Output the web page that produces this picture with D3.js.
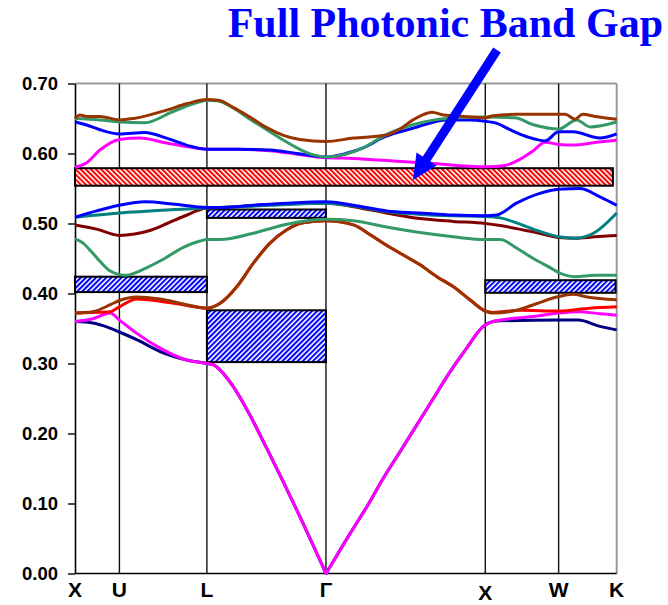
<!DOCTYPE html>
<html>
<head>
<meta charset="utf-8">
<script src="https://d3js.org/d3.v7.min.js"></script>
<style>
  body { margin: 0; background: #fff; }
  svg { display: block; }
</style>
</head>
<body>
<div id="chart"></div>
<script>
// symmetry points along the k path (fraction of path length)
const kTicks = [0, 0.082, 0.2435, 0.4633, 0.7574, 0.8928, 1];
const kLabels = ["X", "U", "L", "Γ", "X", "W", "K"];
const yTicks = [0, 0.1, 0.2, 0.3, 0.4, 0.5, 0.6, 0.7];

// shared pieces of degenerate branches (L - Γ - X)
const acousticLGX = [[0.256,0.298],[0.2616,0.295],[0.2922,0.267],[0.3231,0.226],[0.3539,0.179],[0.3845,0.131],[0.4154,0.081],[0.4462,0.029],[0.459,0.0075],[0.4633,0],[0.468,0.006],[0.5077,0.057],[0.5385,0.095],[0.5691,0.136],[0.600,0.174],[0.6308,0.212],[0.6614,0.250],[0.6923,0.288],[0.7231,0.322],[0.7537,0.353],[0.7716,0.360]];
const opticLGX = [[0.268,0.386],[0.299,0.410],[0.329,0.443],[0.360,0.472],[0.391,0.491],[0.421,0.501],[0.4633,0.504],[0.514,0.498],[0.545,0.484],[0.575,0.469],[0.606,0.455],[0.637,0.441],[0.668,0.424],[0.698,0.410],[0.729,0.391],[0.7574,0.375]];

const bandNavy = [[0,0.360],[0.033,0.358],[0.060,0.352],[0.082,0.345],[0.114,0.334],[0.157,0.317],[0.206,0.305],[0.2435,0.300], ...acousticLGX, [0.785,0.361],[0.8928,0.362],[0.929,0.362],[0.969,0.353],[1,0.348]];
const bandMagentaLow = [[0,0.360],[0.033,0.364],[0.065,0.372],[0.082,0.362],[0.114,0.343],[0.157,0.322],[0.206,0.305],[0.2435,0.300], ...acousticLGX, [0.785,0.362],[0.846,0.367],[0.8928,0.372],[0.932,0.374],[0.969,0.371],[1,0.369]];
const bandRed = [[0,0.372],[0.033,0.373],[0.065,0.374],[0.082,0.381],[0.114,0.392],[0.157,0.389],[0.206,0.383],[0.2435,0.379], ...opticLGX, [0.7716,0.373],[0.821,0.376],[0.8928,0.375],[0.95,0.379],[1,0.381]];
const bandBrown = [[0,0.372],[0.033,0.374],[0.065,0.384],[0.082,0.390],[0.114,0.395],[0.157,0.392],[0.206,0.384],[0.2435,0.379], ...opticLGX, [0.7716,0.372],[0.815,0.376],[0.850,0.385],[0.889,0.395],[0.920,0.399],[0.945,0.395],[1,0.391]];
const bandGreenLow = [[0,0.478],[0.015,0.472],[0.030,0.460],[0.046,0.446],[0.065,0.432],[0.082,0.427],[0.095,0.426],[0.11,0.429],[0.13,0.436],[0.163,0.449],[0.2,0.466],[0.231,0.475],[0.2435,0.477],[0.268,0.477],[0.329,0.486],[0.391,0.499],[0.4633,0.506],[0.514,0.504],[0.575,0.495],[0.637,0.487],[0.698,0.481],[0.7574,0.477],[0.785,0.477],[0.815,0.465],[0.846,0.450],[0.877,0.437],[0.8928,0.430],[0.923,0.424],[0.96,0.426],[1,0.426]];
const bandDarkRed = [[0,0.498],[0.04,0.492],[0.082,0.483],[0.11,0.485],[0.138,0.490],[0.17,0.500],[0.2,0.510],[0.2435,0.522],[0.30,0.524],[0.36,0.527],[0.4633,0.529],[0.514,0.524],[0.575,0.515],[0.637,0.507],[0.698,0.503],[0.7574,0.500],[0.785,0.497],[0.846,0.488],[0.8928,0.480],[0.923,0.479],[0.96,0.481],[1,0.483]];
const bandTeal = [[0,0.509],[0.082,0.515],[0.16,0.519],[0.2435,0.522],[0.30,0.524],[0.36,0.526],[0.4633,0.529],[0.514,0.525],[0.575,0.517],[0.637,0.513],[0.698,0.511],[0.7574,0.510],[0.785,0.508],[0.815,0.501],[0.846,0.492],[0.8928,0.481],[0.923,0.479],[0.957,0.486],[1,0.515]];
const bandBlueLow = [[0,0.509],[0.04,0.518],[0.082,0.526],[0.129,0.531],[0.18,0.528],[0.2435,0.523],[0.268,0.523],[0.329,0.526],[0.391,0.529],[0.4633,0.531],[0.514,0.526],[0.575,0.518],[0.637,0.515],[0.698,0.512],[0.7574,0.511],[0.778,0.512],[0.815,0.529],[0.858,0.543],[0.8928,0.549],[0.932,0.550],[0.969,0.538],[1,0.526]];
const bandMagentaUp = [[0,0.580],[0.02,0.586],[0.046,0.605],[0.082,0.620],[0.12,0.622],[0.169,0.615],[0.231,0.607],[0.2435,0.606],[0.30,0.606],[0.36,0.604],[0.41,0.599],[0.4633,0.594],[0.514,0.593],[0.594,0.589],[0.655,0.586],[0.7574,0.581],[0.794,0.583],[0.822,0.592],[0.846,0.604],[0.868,0.616],[0.8928,0.613],[0.919,0.612],[0.963,0.616],[1,0.619]];
const bandBlueUp = [[0,0.645],[0.02,0.641],[0.046,0.634],[0.082,0.628],[0.129,0.630],[0.169,0.622],[0.215,0.610],[0.2435,0.606],[0.30,0.606],[0.36,0.605],[0.41,0.600],[0.4633,0.595],[0.50,0.600],[0.532,0.608],[0.572,0.624],[0.624,0.636],[0.686,0.648],[0.73,0.648],[0.7574,0.646],[0.779,0.643],[0.803,0.634],[0.834,0.624],[0.868,0.618],[0.8928,0.631],[0.919,0.631],[0.969,0.622],[1,0.628]];
const bandGreenUp = [[0,0.650],[0.046,0.648],[0.082,0.645],[0.129,0.644],[0.181,0.660],[0.231,0.674],[0.2435,0.676],[0.265,0.675],[0.292,0.665],[0.323,0.649],[0.354,0.634],[0.385,0.619],[0.415,0.606],[0.44,0.598],[0.4633,0.595],[0.532,0.608],[0.572,0.626],[0.624,0.641],[0.686,0.650],[0.7574,0.652],[0.812,0.651],[0.846,0.641],[0.8928,0.635],[0.926,0.648],[0.951,0.638],[1,0.645]];
const bandBrownUp = [[0,0.650],[0.009,0.655],[0.022,0.653],[0.046,0.653],[0.082,0.648],[0.108,0.650],[0.169,0.662],[0.206,0.671],[0.2435,0.677],[0.265,0.676],[0.292,0.666],[0.323,0.652],[0.354,0.637],[0.385,0.626],[0.415,0.620],[0.4633,0.617],[0.514,0.622],[0.572,0.626],[0.600,0.635],[0.624,0.648],[0.659,0.659],[0.68,0.655],[0.718,0.653],[0.7574,0.651],[0.772,0.654],[0.815,0.656],[0.905,0.656],[0.923,0.649],[0.937,0.656],[0.96,0.653],[1,0.649]];

const bands = [
  { pts: bandNavy, color: "#000080" },
  { pts: bandMagentaLow, color: "#FF00FF" },
  { pts: bandRed, color: "#FF0000" },
  { pts: bandBrown, color: "#993300" },
  { pts: bandGreenLow, color: "#339966" },
  { pts: bandDarkRed, color: "#800000" },
  { pts: bandTeal, color: "#008080" },
  { pts: bandBlueLow, color: "#0000FF" },
  { pts: bandMagentaUp, color: "#FF00FF" },
  { pts: bandBlueUp, color: "#0000FF" },
  { pts: bandGreenUp, color: "#339966" },
  { pts: bandBrownUp, color: "#993300" }
];

// band gaps: k range and frequency range
const gapK0 = [0, 0, 0.2435, 0.2435, 0.7574];
const gapK1 = [0.993, 0.2435, 0.4633, 0.4633, 0.998];
const gapLow = [0.554, 0.402, 0.508, 0.302, 0.401];
const gapHigh = [0.579, 0.424, 0.520, 0.376, 0.419];
const gapFull = [true, false, false, false, false];

const W = 668, H = 605;
const margin = { left: 75, top: 83.5, right: W - 616.7, bottom: H - 573.5 };
const plotW = W - margin.left - margin.right;
const plotH = H - margin.top - margin.bottom;

const svg = d3.select("#chart").append("svg")
  .attr("width", W)
  .attr("height", H);

const defs = svg.append("defs");
function hatch(id, color, angle) {
  const p = defs.append("pattern")
    .attr("id", id)
    .attr("patternUnits", "userSpaceOnUse")
    .attr("width", 3.6)
    .attr("height", 10)
    .attr("patternTransform", `rotate(${angle})`);
  p.append("rect").attr("width", 3.6).attr("height", 10).attr("fill", "#fff");
  p.append("rect").attr("width", 2).attr("height", 10).attr("fill", color);
}
hatch("hatchRed", "#FF0000", -45);
hatch("hatchBlue", "#0000FF", 45);

const x = d3.scaleLinear().domain([0, 1]).range([0, plotW]);
const y = d3.scaleLinear().domain([0, 0.7]).range([plotH, 0]);

const g = svg.append("g").attr("transform", `translate(${margin.left},${margin.top})`);

// frame: gray top/right
g.append("line").attr("x1", 0).attr("x2", plotW).attr("y1", 0).attr("y2", 0)
  .attr("stroke", "#999").attr("stroke-width", 2);
g.append("line").attr("x1", plotW).attr("x2", plotW).attr("y1", 0).attr("y2", plotH)
  .attr("stroke", "#999").attr("stroke-width", 2);

// vertical lines at symmetry points
g.selectAll(".vline")
  .data(kTicks.slice(1, -1))
  .join("line")
  .attr("class", "vline")
  .attr("x1", d => x(d)).attr("x2", d => x(d))
  .attr("y1", 0).attr("y2", plotH)
  .attr("stroke", "#111").attr("stroke-width", 1.4);

// y axis
const yAxis = g.append("g")
  .call(d3.axisLeft(y).tickValues(yTicks).tickFormat(d3.format(".2f")).tickSize(7).tickSizeOuter(0));
yAxis.select(".domain").attr("stroke", "#000").attr("stroke-width", 1.6);
yAxis.selectAll(".tick line").attr("stroke", "#000").attr("stroke-width", 1.4);
yAxis.selectAll(".tick text")
  .attr("x", -17)
  .style("font-family", "'Liberation Sans', Arial, sans-serif")
  .style("font-weight", "bold")
  .style("font-size", "18.5px")
  .attr("fill", "#000");

// bottom axis line
g.append("line").attr("x1", 0).attr("x2", plotW).attr("y1", plotH).attr("y2", plotH)
  .attr("stroke", "#000").attr("stroke-width", 1.6);

// k labels (the second X sits a little lower, as in the original)
g.selectAll(".klabel")
  .data(kTicks)
  .join("text")
  .attr("class", "klabel")
  .attr("x", d => x(d))
  .attr("y", (d, i) => plotH + (i === 4 ? 26 : 23))
  .attr("text-anchor", "middle")
  .style("font-family", "'Liberation Sans', Arial, sans-serif")
  .style("font-weight", "bold")
  .style("font-size", "21px")
  .text((d, i) => kLabels[i]);

// gaps
g.selectAll(".gap")
  .data(gapK0)
  .join("rect")
  .attr("class", "gap")
  .attr("x", (d, i) => x(gapK0[i]))
  .attr("width", (d, i) => x(gapK1[i]) - x(gapK0[i]))
  .attr("y", (d, i) => y(gapHigh[i]))
  .attr("height", (d, i) => y(gapLow[i]) - y(gapHigh[i]))
  .attr("fill", (d, i) => gapFull[i] ? "url(#hatchRed)" : "url(#hatchBlue)")
  .attr("stroke", "#000")
  .attr("stroke-width", 2);

// bands
const line = d3.line()
  .x(d => x(d[0]))
  .y(d => y(d[1]))
  .curve(d3.curveMonotoneX);

g.selectAll(".band")
  .data(bands)
  .join("path")
  .attr("class", "band")
  .attr("d", d => line(d.pts))
  .attr("fill", "none")
  .attr("stroke", d => d.color)
  .attr("stroke-width", 3)
  .attr("stroke-linejoin", "round");

// annotation
svg.append("text")
  .attr("x", 663)
  .attr("y", 37)
  .attr("text-anchor", "end")
  .style("font-family", "'Liberation Serif', 'Times New Roman', serif")
  .style("font-weight", "bold")
  .style("font-size", "42px")
  .attr("fill", "#0000FF")
  .text("Full Photonic Band Gap");

const tail = [497, 50], tip = [413, 180];
const dx = tip[0] - tail[0], dy = tip[1] - tail[1];
const len = Math.hypot(dx, dy), ux = dx / len, uy = dy / len;
const headLen = 25, headHalf = 12;
const bx = tip[0] - ux * headLen, by = tip[1] - uy * headLen;
svg.append("line")
  .attr("x1", tail[0]).attr("y1", tail[1])
  .attr("x2", bx + ux * 2).attr("y2", by + uy * 2)
  .attr("stroke", "#0000FF").attr("stroke-width", 9);
svg.append("polygon")
  .attr("points", [
    [tip[0], tip[1]],
    [bx - uy * headHalf, by + ux * headHalf],
    [bx + uy * headHalf, by - ux * headHalf]
  ].map(p => p.join(",")).join(" "))
  .attr("fill", "#0000FF");
</script>
</body>
</html>
